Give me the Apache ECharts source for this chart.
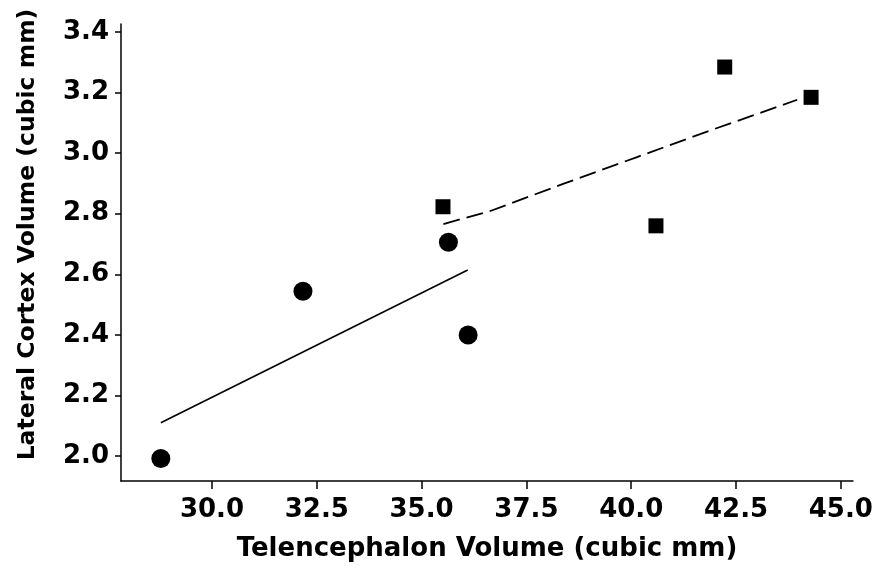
<!DOCTYPE html>
<html>
<head>
<meta charset="utf-8">
<script src="https://cdn.jsdelivr.net/npm/echarts@6/dist/echarts.min.js"></script>
<style>
  html, body { margin: 0; padding: 0; background: #fff; }
  #main { width: 876px; height: 569px; }
</style>
</head>
<body>
<div id="main"></div>
<script>
// data
const circlePts = [[28.78, 1.992], [32.17, 2.544], [35.64, 2.706], [36.11, 2.40]];
const squarePts = [[35.51, 2.823], [40.59, 2.760], [42.23, 3.284], [44.29, 3.184]];
// fitted lines
const solidFit = [[28.78, 2.11], [36.10, 2.614]];
const dashedFit = [[35.52, 2.766], [36.64, 2.809], [38.39, 2.899], [40.14, 2.987], [41.81, 3.071], [43.96, 3.176]];
// tick labels
const xTicks = [30.0, 32.5, 35.0, 37.5, 40.0, 42.5, 45.0];
const yTicks = [2.0, 2.2, 2.4, 2.6, 2.8, 3.0, 3.2, 3.4];

const font = 'DejaVu Sans';
const chart = echarts.init(document.getElementById('main'));

const option = {
  animation: false,
  grid: { left: 121, right: 23, top: 24, bottom: 88 },
  xAxis: {
    type: 'value',
    min: 27.83,
    max: 45.29,
    name: 'Telencephalon Volume (cubic mm)',
    nameLocation: 'middle',
    nameGap: 55,
    nameTextStyle: { fontFamily: font, fontWeight: 'bold', fontSize: 26, color: '#000' },
    splitLine: { show: false },
    axisLine: { lineStyle: { color: '#000', width: 1.5 } },
    axisTick: { length: 8, lineStyle: { color: '#000', width: 1.5 }, customValues: xTicks },
    axisLabel: {
      customValues: xTicks,
      margin: 16,
      fontFamily: font, fontWeight: 'bold', fontSize: 26, color: '#000',
      formatter: v => v.toFixed(1)
    }
  },
  yAxis: {
    type: 'value',
    min: 1.918,
    max: 3.426,
    name: 'Lateral Cortex Volume (cubic mm)',
    nameLocation: 'middle',
    nameGap: 81,
    nameTextStyle: { fontFamily: font, fontWeight: 'bold', fontSize: 23.5, color: '#000', padding: [0, 0, 0, 36] },
    splitLine: { show: false },
    axisLine: { lineStyle: { color: '#000', width: 1.5 } },
    axisTick: { length: 6, lineStyle: { color: '#000', width: 1.5 }, customValues: yTicks },
    axisLabel: {
      customValues: yTicks,
      margin: 12,
      fontFamily: font, fontWeight: 'bold', fontSize: 26, color: '#000',
      formatter: v => v.toFixed(1)
    }
  },
  series: [
    {
      type: 'line',
      data: solidFit,
      showSymbol: false,
      lineStyle: { color: '#000', width: 1.6 }
    },
    {
      type: 'line',
      data: dashedFit,
      showSymbol: false,
      lineStyle: { color: '#000', width: 1.8, type: [17, 7] }
    },
    {
      type: 'scatter',
      data: circlePts,
      symbol: 'circle',
      symbolSize: 19,
      itemStyle: { color: '#000', opacity: 1 }
    },
    {
      type: 'scatter',
      data: squarePts,
      symbol: 'rect',
      symbolSize: 15,
      itemStyle: { color: '#000', opacity: 1 }
    }
  ]
};
chart.setOption(option);
</script>
</body>
</html>
